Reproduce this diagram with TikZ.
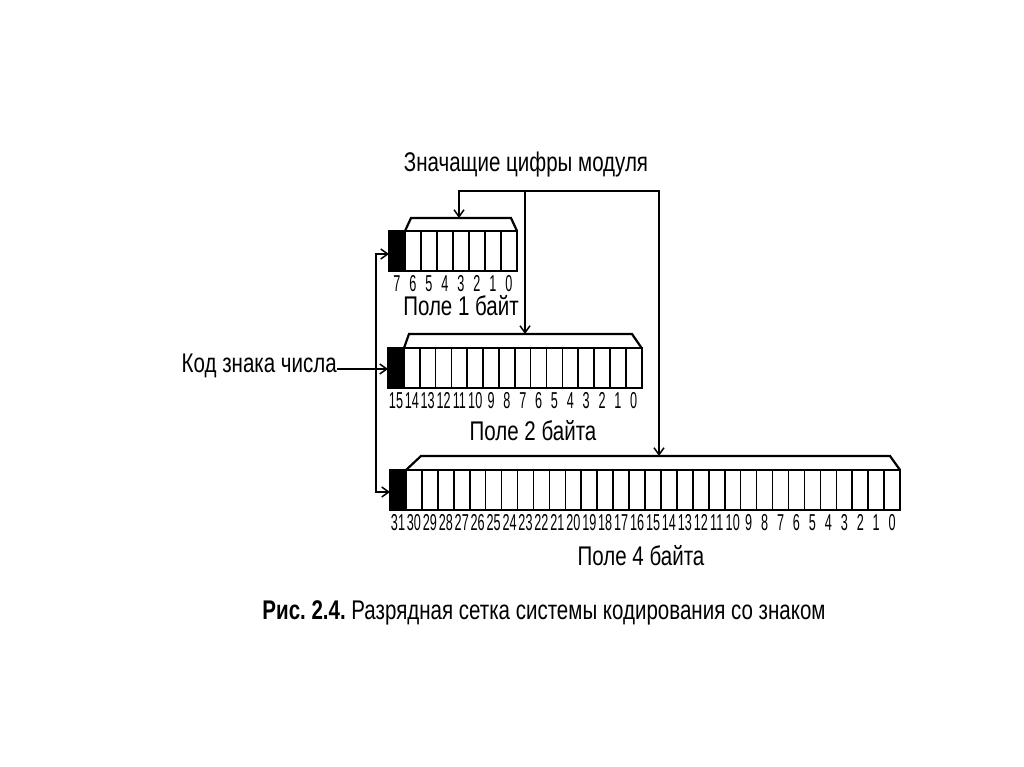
\documentclass[tikz,border=0pt]{standalone}
\usepackage{fontspec}
\setmainfont{Liberation Sans}
\newfontfamily\narrowsf[FakeStretch=0.76]{Liberation Sans}
\newfontfamily\bitsf[FakeStretch=0.55]{Liberation Sans}
\usetikzlibrary{arrows.meta}

\tikzset{
  label text/.style={font=\narrowsf\fontsize{27}{30}\selectfont,inner sep=0pt},
  caption text/.style={font=\narrowsf\fontsize{27}{30}\selectfont,inner sep=0pt},
  bit text/.style={font=\bitsf\fontsize{23}{26}\selectfont,inner sep=0pt,anchor=base},
  cell/.style={line width=1.6pt},
  frame/.style={line width=2.2pt,line join=miter},
  wire/.style={line width=1.8pt},
  tip/.style={-{Straight Barb[length=7pt,width=10pt,line width=1.5pt]}},
}

\begin{document}
\begin{tikzpicture}[x=1pt,y=-1pt]
  \useasboundingbox (0,0) rectangle (1024,767);

  \fill (389,231) rectangle (405,271);
  \foreach \i in {1,...,7} \draw[cell] ({389+16*\i},231) -- ++(0,40);
  \draw[frame] (389,231) rectangle (517,271);
  \draw[frame] (405,231) -- (411,218) -- (511,218) -- (517,231);
  \foreach \i in {0,...,7} \node[bit text] (bitA\i) at ({397+16*(7-\i)},291) {\i};

  \fill (388,348) rectangle (404,388);
  \foreach \i in {1,...,15} \draw[cell] ({388+15.85*\i},348) -- ++(0,40);
  \draw[frame] (388,348) rectangle (641.6,388);
  \draw[frame] (404,348) -- (409,334) -- (632,334) -- (641.6,348);
  \foreach \i in {0,...,15} \node[bit text] (bitB\i) at ({396+15.85*(15-\i)},408) {\i};

  \fill (390,470) rectangle (406,510);
  \foreach \i in {1,...,31} \draw[cell] ({390+15.94*\i},470) -- ++(0,40);
  \draw[frame] (390,470) rectangle (900,510);
  \draw[frame] (406,470) -- (421,456) -- (890,456) -- (900,470);
  \foreach \i in {0,...,31} \node[bit text] (bitC\i) at ({398+15.94*(31-\i)},530) {\i};

  \node[label text] (fieldA) at (461,306) {Поле 1 байт};
  \node[label text] (fieldB) at (533,431) {Поле 2 байта};
  \node[label text] (fieldC) at (641,556) {Поле 4 байта};

  \node[label text] (digits) at (526,165) {Значащие цифры модуля};
  \coordinate (fork) at (525,191);
  \coordinate (capA) at (459,218);
  \coordinate (capB) at (525,334);
  \coordinate (capC) at (659,456);
  \draw[wire,tip] (fork) -| (capA);
  \draw[wire,tip] (fork) -- (capB);
  \draw[wire,tip] (fork) -| (capC);

  \node[label text,anchor=east] (sign) at (337,366) {Код знака числа};
  \coordinate (signA) at (389,254);
  \coordinate (signB) at (388,369);
  \coordinate (signC) at (390,492);
  \coordinate (bus) at (376,369);
  \draw[wire,tip] (sign.east |- signB) -- (signB);
  \draw[wire,tip] (bus) |- (signA);
  \draw[wire,tip] (bus) |- (signC);

  \node[caption text] (caption) at (544,613)
    {\bfseries Рис.\ 2.4.\mdseries\ Разрядная сетка системы кодирования со знаком};
\end{tikzpicture}
\end{document}
